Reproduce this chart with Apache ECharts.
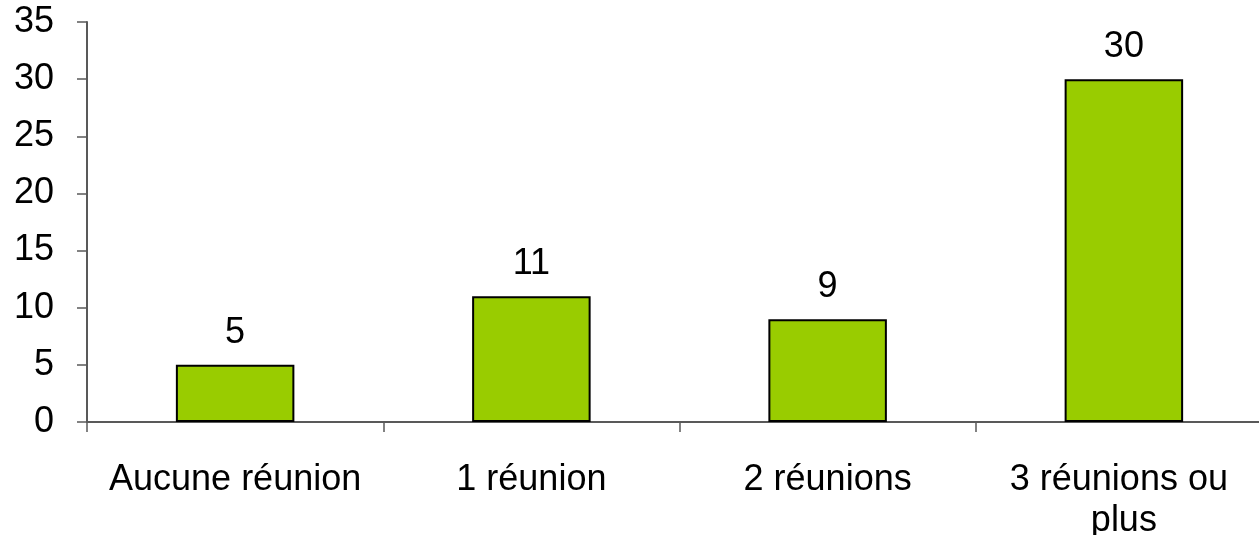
<!DOCTYPE html>
<html>
<head>
<meta charset="utf-8">
<script src="https://cdn.jsdelivr.net/npm/echarts@6/dist/echarts.min.js"></script>
<style>
html,body{margin:0;padding:0;background:#fff;overflow:hidden;}
#chart{width:1259px;height:535px;}
</style>
</head>
<body>
<div id="chart"></div>
<script>
const categories = ["Aucune réunion", "1 réunion", "2 réunions", "3 réunions ou plus"];
const values = [5, 11, 9, 30];
const yTicks = { min: 0, max: 35, interval: 5 };

const FONT = '"Liberation Sans", Arial, sans-serif';
const chart = echarts.init(document.getElementById('chart'), null, { renderer: 'canvas' });
chart.setOption({
  animation: false,
  backgroundColor: '#ffffff',
  grid: { left: 87, top: 22, bottom: 113, right: -13, containLabel: false, outerBoundsMode: 'none' },
  xAxis: {
    type: 'category',
    data: categories,
    boundaryGap: true,
    axisLine: { show: true, lineStyle: { color: '#595959', width: 2 } },
    axisTick: { show: true, length: 10, alignWithLabel: false, lineStyle: { color: '#595959', width: 1.5 } },
    axisLabel: {
      interval: 0,
      margin: 38,
      color: '#000',
      fontFamily: FONT,
      fontSize: 36,
      lineHeight: 41,
      width: 280,
      overflow: 'break'
    },
    splitLine: { show: false }
  },
  yAxis: {
    type: 'value',
    min: yTicks.min,
    max: yTicks.max,
    interval: yTicks.interval,
    axisLine: { show: true, lineStyle: { color: '#595959', width: 2 } },
    axisTick: { show: true, inside: false, length: 10, lineStyle: { color: '#595959', width: 1.5 } },
    axisLabel: {
      margin: 33,
      color: '#000',
      fontFamily: FONT,
      fontSize: 36
    },
    splitLine: { show: false }
  },
  series: [{
    type: 'bar',
    data: values,
    barWidth: '40%',
    itemStyle: { color: '#99CC00', borderColor: '#000', borderWidth: 2 },
    label: {
      show: true,
      position: 'top',
      distance: 14,
      color: '#000',
      fontFamily: FONT,
      fontSize: 36
    }
  }]
});
</script>
</body>
</html>
